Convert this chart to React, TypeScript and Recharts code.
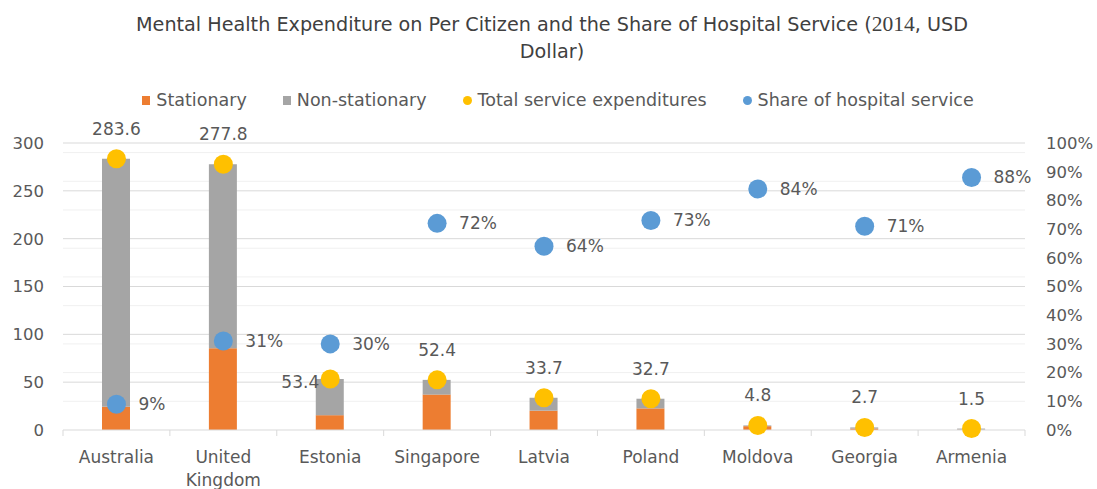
import React from 'react';
import { ComposedChart, Bar, Scatter, XAxis, YAxis, CartesianGrid } from 'recharts';

const countries = ['Australia', 'United Kingdom', 'Estonia', 'Singapore', 'Latvia', 'Poland', 'Moldova', 'Georgia', 'Armenia'];
const stationaryValues = [24.3, 85.4, 15.5, 37.0, 20.2, 22.6, 4.0, 1.5, 0.3];
const totalValues = [283.6, 277.8, 53.4, 52.4, 33.7, 32.7, 4.8, 2.7, 1.5];
const shareValues = [0.09, 0.31, 0.3, 0.72, 0.64, 0.73, 0.84, 0.71, 0.88];
const leftTicks = [0, 50, 100, 150, 200, 250, 300];
const rightTicks = [0, 0.1, 0.2, 0.3, 0.4, 0.5, 0.6, 0.7, 0.8, 0.9, 1];
const minorGridValues = [10, 20, 30, 40, 60, 70, 80, 90, 110, 120, 130, 140, 160, 170, 180, 190, 210, 220, 230, 240, 260, 270, 280, 290];

const seriesNames = ['Stationary', 'Non-stationary', 'Total service expenditures', 'Share of hospital service'];
const COLORS = { stationary: '#ED7D31', non: '#A5A5A5', total: '#FFC000', share: '#5B9BD5' };

const data = countries.map((c, i) => ({
  country: c,
  stationary: stationaryValues[i],
  nonStationary: +(totalValues[i] - stationaryValues[i]).toFixed(1),
  total: totalValues[i],
  share: shareValues[i],
}));

const FONT = '"DejaVu Sans", sans-serif';
const TEXT = '#595959';
const W = 1097;
const H = 489;
const PLOT_TOP = 143;
const PLOT_LEFT = 63;
const PLOT_RIGHT = 1025;
const PLOT_BOTTOM = 430;
const BAND = (PLOT_RIGHT - PLOT_LEFT) / countries.length;

const TotalShape = (props: any) => {
  const { cx, cy, payload } = props;
  if (cx == null || cy == null) return null;
  const diff = payload.share * 300 - payload.total;
  const left = diff > 0 && diff < 50;
  let lx = cx;
  let ly = cy - 29;
  let anchor: 'middle' | 'end' = 'middle';
  if (left) {
    lx = cx - 11;
    ly = cy + 4;
    anchor = 'end';
  }
  return (
    <g>
      <circle cx={cx} cy={cy} r={9.5} fill={COLORS.total} />
      <text x={lx} y={ly} textAnchor={anchor} dominantBaseline="middle" fontFamily={FONT} fontSize={17} fill={TEXT}>
        {payload.total.toFixed(1)}
      </text>
    </g>
  );
};

const ShareShape = (props: any) => {
  const { cx, cy, payload } = props;
  if (cx == null || cy == null) return null;
  return (
    <g>
      <circle cx={cx} cy={cy} r={9.5} fill={COLORS.share} />
      <text x={cx + 22} y={cy + 1} textAnchor="start" dominantBaseline="middle" fontFamily={FONT} fontSize={17} fill={TEXT}>
        {Math.round(payload.share * 100)}%
      </text>
    </g>
  );
};

const XTick = (props: any) => {
  const { x, payload } = props;
  const label: string = payload.value;
  const lines = label.length > 10 ? label.split(' ') : [label];
  const idx = payload.index ?? countries.indexOf(label);
  const half = BAND / 2;
  return (
    <g>
      <line x1={x - half} x2={x - half} y1={PLOT_BOTTOM} y2={PLOT_BOTTOM + 6} stroke="#D9D9D9" strokeWidth={1} />
      {idx === countries.length - 1 && (
        <line x1={x + half} x2={x + half} y1={PLOT_BOTTOM} y2={PLOT_BOTTOM + 6} stroke="#D9D9D9" strokeWidth={1} />
      )}
      <text x={x} y={PLOT_BOTTOM + 33} textAnchor="middle" fontFamily={FONT} fontSize={17} fill={TEXT}>
        {lines.map((ln, i) => (
          <tspan key={i} x={x} dy={i === 0 ? 0 : 23}>
            {ln}
          </tspan>
        ))}
      </text>
    </g>
  );
};

const LegendItem = ({ name, color, round }: { name: string; color: string; round: boolean }) => (
  <div style={{ display: 'flex', alignItems: 'center', gap: 6 }}>
    <span
      style={{
        display: 'inline-block',
        width: round ? 9 : 8,
        height: 9,
        borderRadius: round ? '50%' : 0,
        background: color,
      }}
    />
    <span>{name}</span>
  </div>
);

export default function App() {
  const legendColors = [COLORS.stationary, COLORS.non, COLORS.total, COLORS.share];
  return (
    <div style={{ position: 'absolute', left: 0, top: 0, width: W, height: H, background: '#fff', overflow: 'hidden' }}>
      <div
        style={{
          position: 'absolute',
          top: 11,
          left: 77,
          width: 950,
          textAlign: 'center',
          fontFamily: FONT,
          fontSize: 19.2,
          lineHeight: '27px',
          color: '#404040',
          whiteSpace: 'nowrap',
        }}
      >
        <div>
          Mental Health Expenditure on Per Citizen and the Share of Hospital Service (
          <span style={{ fontFamily: '"Liberation Serif", serif', fontSize: 21.5 }}>2014</span>, USD
        </div>
        <div>Dollar)</div>
      </div>
      <div
        style={{
          position: 'absolute',
          top: 88,
          left: 0,
          width: 1116,
          display: 'flex',
          justifyContent: 'center',
          gap: 36,
          fontFamily: FONT,
          fontSize: 17.5,
          color: TEXT,
          lineHeight: '24px',
        }}
      >
        {seriesNames.map((n, i) => (
          <LegendItem key={n} name={n} color={legendColors[i]} round={i >= 2} />
        ))}
      </div>
      <div style={{ position: 'absolute', left: 0, top: 0 }}>
        <ComposedChart width={W} height={H} data={data} margin={{ top: PLOT_TOP, right: 0, bottom: 0, left: 0 }}>
          <CartesianGrid yAxisId="l" vertical={false} horizontalValues={minorGridValues} stroke="#F0F0F0" />
          <CartesianGrid yAxisId="l" vertical={false} horizontalValues={leftTicks.slice(1)} stroke="#D9D9D9" />
          <XAxis
            dataKey="country"
            interval={0}
            height={H - PLOT_BOTTOM}
            axisLine={{ stroke: '#D9D9D9' }}
            tickLine={false}
            tick={<XTick />}
          />
          <YAxis
            yAxisId="l"
            orientation="left"
            width={PLOT_LEFT}
            domain={[0, 300]}
            ticks={leftTicks}
            axisLine={false}
            tickLine={false}
            tickSize={0}
            tickMargin={19}
            tick={{ fontFamily: FONT, fontSize: 16.5, fill: TEXT }}
          />
          <YAxis
            yAxisId="r"
            orientation="right"
            width={W - PLOT_RIGHT}
            domain={[0, 1]}
            ticks={rightTicks}
            tickFormatter={(v: number) => `${Math.round(v * 100)}%`}
            axisLine={false}
            tickLine={false}
            tickSize={0}
            tickMargin={21}
            tick={{ fontFamily: FONT, fontSize: 16.5, fill: TEXT, textAnchor: 'start' }}
          />
          <Bar yAxisId="l" dataKey="stationary" stackId="a" fill={COLORS.stationary} barSize={28} isAnimationActive={false} />
          <Bar yAxisId="l" dataKey="nonStationary" stackId="a" fill={COLORS.non} barSize={28} isAnimationActive={false} />
          <Scatter yAxisId="l" dataKey="total" shape={<TotalShape />} isAnimationActive={false} />
          <Scatter yAxisId="r" dataKey="share" shape={<ShareShape />} isAnimationActive={false} />
        </ComposedChart>
      </div>
    </div>
  );
}
